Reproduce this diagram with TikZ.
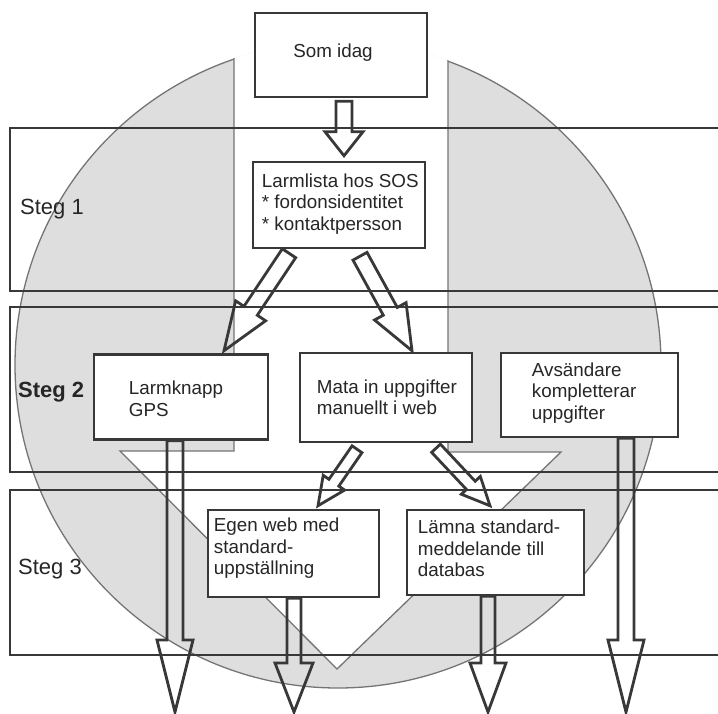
\documentclass[tikz,border=0pt]{standalone}
\usepackage{fontspec}
\setmainfont{Liberation Sans}
\usetikzlibrary{calc}

\definecolor{ink}{HTML}{383838}
\definecolor{txt}{HTML}{262626}
\definecolor{disc}{HTML}{DEDEDE}
\definecolor{rim}{HTML}{747474}

% hollow block arrow: #1 name, #2 start, #3 tip,
% #4 shaft half-width, #5 head half-width, #6 head length
\newcommand\blockarrow[6]{%
  \coordinate (#1-h) at ($(#3)!#6!(#2)$);
  \draw[arrowline]
    ($(#2)!#4!90:(#3)$) -- ($(#1-h)!#4!90:(#3)$) -- ($(#1-h)!#5!90:(#3)$)
    -- (#3)
    -- ($(#1-h)!#5!-90:(#3)$) -- ($(#1-h)!#4!-90:(#3)$) -- ($(#2)!#4!-90:(#3)$)
    -- cycle;
}

\begin{document}
\begin{tikzpicture}[x=1pt,y=-1pt,
  box/.style={draw=ink, line width=2.5pt, fill=white, inner sep=0pt},
  boxtext/.style={anchor=west, align=left, text=txt, inner sep=0pt,
    font=\fontsize{18.8}{21.5}\selectfont},
  steglabel/.style={anchor=west, text=txt, inner sep=0pt,
    font=\fontsize{22}{26}\selectfont},
  band/.style={draw=ink, line width=2.5pt},
  arrowline/.style={draw=ink, line width=2.8pt, line join=miter},
]
\useasboundingbox (0,0) rectangle (718,714);

% grey disc with the white funnel cut into it
\fill[disc] (338,365) circle[radius=323pt];
\draw[rim, line width=1.3pt] (338,365) circle[radius=323pt];
\begin{scope}
  \clip (338,365) circle[radius=324pt];
  \filldraw[fill=white, draw=rim, line width=1.3pt]
    (234,-10) -- (234,451) -- (120,451) -- (337,669) -- (561,452)
    -- (448,452) -- (448,-10) -- cycle;
\end{scope}

% the three step bands, open to the right
\draw[band] (718,128) -- (10,128) -- (10,291) -- (718,291);
\draw[band] (718,307) -- (10,307) -- (10,472) -- (718,472);
\draw[band] (718,490) -- (10,490) -- (10,655) -- (718,655);

\node[steglabel] (steg1) at (20,209) {Steg 1};
\node[steglabel, font=\fontsize{22}{26}\selectfont\bfseries] (steg2) at (18,392) {Steg 2};
\node[steglabel] (steg3) at (18,569) {Steg 3};

% boxes
\node[box, minimum width=172pt, minimum height=84pt] (som)   at (341,55)    {};
\node[box, minimum width=172pt, minimum height=86pt] (larm)  at (339,205)   {};
\node[box, minimum width=174pt, minimum height=85pt] (gps)   at (181,397)   {};
\node[box, minimum width=172pt, minimum height=89pt] (mata)  at (386,397.5) {};
\node[box, minimum width=177pt, minimum height=84pt] (avs)   at (589.5,395) {};
\node[box, minimum width=171pt, minimum height=87pt] (egen)  at (293.5,553.5) {};
\node[box, minimum width=177pt, minimum height=85pt] (lamna) at (495.5,552.5) {};

% box texts
\node[boxtext, anchor=center] (somT) at (333,53) {Som idag};
\node[boxtext] (larmT) at ([xshift=10pt,yshift=1pt]larm.west)
  {Larmlista hos SOS\\* fordonsidentitet\\* kontaktpersson};
\node[boxtext] (gpsT) at ([xshift=36pt,yshift=-2pt]gps.west) {Larmknapp\\GPS};
\node[boxtext] (mataT) at ([xshift=18pt]mata.west) {Mata in uppgifter\\manuellt i web};
\node[boxtext] (avsT) at ([xshift=32pt,yshift=2pt]avs.west)
  {Avsändare\\kompletterar\\uppgifter};
\node[boxtext] (egenT) at ([xshift=7pt,yshift=5pt]egen.west)
  {Egen web med\\standard-\\uppställning};
\node[boxtext] (lamnaT) at ([xshift=12pt,yshift=4pt]lamna.west)
  {Lämna standard-\\meddelande till\\databas};

% arrow end points
\coordinate (a0s) at ([xshift=3pt,yshift=-3pt]som.south);
\coordinate (a0t) at ([xshift=5pt,yshift=5pt]larm.north);
\coordinate (a1s) at ([xshift=-50pt,yshift=-4pt]larm.south);
\coordinate (a1t) at ([xshift=43pt,yshift=2.5pt]gps.north);
\coordinate (a2s) at ([xshift=21pt,yshift=-7pt]larm.south);
\coordinate (a2t) at ([xshift=26pt,yshift=1pt]mata.north);
\coordinate (a3s) at ([xshift=-29pt,yshift=-6pt]mata.south);
\coordinate (a3t) at ([xshift=24.5pt,yshift=3pt]egen.north);
\coordinate (a4s) at ([xshift=50pt,yshift=-5pt]mata.south);
\coordinate (a4t) at ([xshift=-5.5pt,yshift=3pt]lamna.north);
\coordinate (a5t) at (175,712);
\coordinate (a5s) at (a5t |- gps.south);
\coordinate (a6t) at (294,712);
\coordinate (a6s) at (a6t |- egen.south);
\coordinate (a7t) at (488,712);
\coordinate (a7s) at (a7t |- lamna.south);
\coordinate (a8t) at (626,712);
\coordinate (a8s) at (a8t |- avs.south);

% arrows
\blockarrow{a0}{a0s}{a0t}{8pt}{19pt}{24pt}
\blockarrow{a1}{a1s}{a1t}{8pt}{18pt}{48pt}
\blockarrow{a2}{a2s}{a2t}{8pt}{18pt}{45pt}
\blockarrow{a3}{a3s}{a3t}{6pt}{13pt}{28pt}
\blockarrow{a4}{a4s}{a4t}{6pt}{13pt}{28pt}
\blockarrow{a5}{a5s}{a5t}{8pt}{18pt}{72pt}
\blockarrow{a6}{a6s}{a6t}{7pt}{19pt}{49pt}
\blockarrow{a7}{a7s}{a7t}{7pt}{18pt}{49pt}
\blockarrow{a8}{a8s}{a8t}{8pt}{18pt}{72pt}
\end{tikzpicture}
\end{document}
